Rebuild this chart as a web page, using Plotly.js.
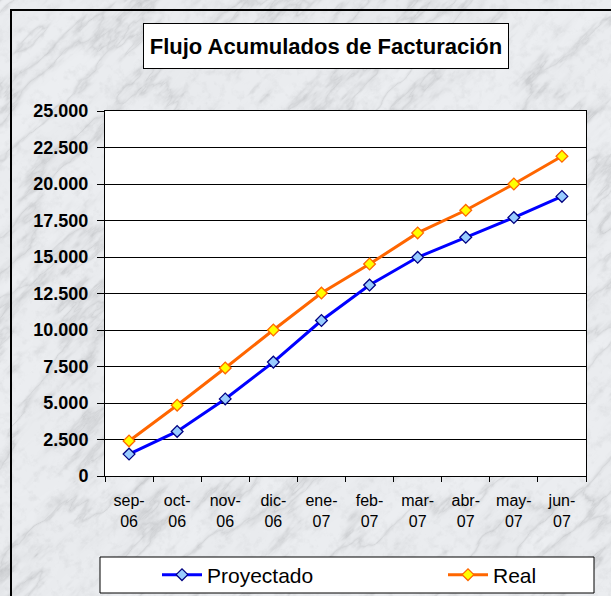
<!DOCTYPE html>
<html>
<head>
<meta charset="utf-8">
<script src="https://cdn.plot.ly/plotly-3.0.1.min.js"></script>
<style>
  html, body { margin: 0; padding: 0; background: #e3e5e7; overflow: hidden; }
  #wrap { position: relative; width: 611px; height: 596px; overflow: hidden; }
  #chart { position: absolute; left: 0; top: 0; width: 611px; height: 596px; }
  #frame { position: absolute; left: 10px; top: 9px; width: 700px; height: 700px;
           border-left: 2px solid #000; border-top: 2px solid #000; pointer-events: none; }
</style>
</head>
<body>
<div id="wrap">
  <div id="chart"></div>
  <div id="frame"></div>
</div>
<script>
// ---- data ----
const months = ['sep', 'oct', 'nov', 'dic', 'ene', 'feb', 'mar', 'abr', 'may', 'jun'];
const years = ['06', '06', '06', '06', '07', '07', '07', '07', '07', '07'];
const proyectado = [1500, 3050, 5280, 7800, 10650, 13080, 14980, 16350, 17700, 19150];
const real = [2400, 4850, 7400, 10000, 12530, 14520, 16650, 18200, 20000, 21900];
const yTickVals = [0, 2500, 5000, 7500, 10000, 12500, 15000, 17500, 20000, 22500, 25000];
const titleText = 'Flujo Acumulados de Facturación';

const categories = months.map((m, i) => m + '-' + years[i]);
const tickText = months.map((m, i) => m + '-<br>' + years[i]);

// ---- decorative marble-like background (deterministic hash noise) ----
(function () {
  const W = 611, H = 596;
  const c = document.createElement('canvas');
  c.width = W; c.height = H;
  const ctx = c.getContext('2d');
  const img = ctx.createImageData(W, H);
  const hash = (ix, iy) => { const s = Math.sin(ix * 127.1 + iy * 311.7) * 43758.5453; return s - Math.floor(s); };
  const smooth = t => t * t * (3 - 2 * t);
  const vnoise = (x, y) => {
    const ix = Math.floor(x), iy = Math.floor(y), fx = smooth(x - ix), fy = smooth(y - iy);
    const a = hash(ix, iy), b = hash(ix + 1, iy), c2 = hash(ix, iy + 1), d = hash(ix + 1, iy + 1);
    return a + (b - a) * fx + (c2 - a) * fy + (a - b - c2 + d) * fx * fy;
  };
  const fbm = (x, y) => {
    let s = 0, amp = 0.5, f = 1;
    for (let o = 0; o < 5; o++) { s += amp * vnoise(x * f, y * f); f *= 2.1; amp *= 0.5; }
    return s;
  };
  for (let y = 0; y < H; y++) {
    for (let x = 0; x < W; x++) {
      const u = (x - y) * 0.5, w = (x + y) * 0.5;
      const n = fbm(u / 60, w / 18);
      const vein = Math.abs(Math.sin(w * 0.04 + n * 8));
      const dark = Math.pow(1 - vein, 3) * 0.55;
      const smudge = Math.max(0, fbm(u / 25 + 20, w / 8 + 20) - 0.5) * 2;
      const grain = fbm(x / 6 + 50, y / 6 + 50);
      let v = 240 - 38 * dark - 30 * smudge * smudge - 14 * Math.max(0, grain - 0.5) * 2 - 8 * n;
      v = Math.max(160, Math.min(250, v));
      const k = (y * W + x) * 4;
      img.data[k] = v - 2; img.data[k + 1] = v; img.data[k + 2] = v + 3; img.data[k + 3] = 255;
    }
  }
  ctx.putImageData(img, 0, 0);
  document.getElementById('wrap').style.background = 'url(' + c.toDataURL() + ')';
})();

// ---- pixel helpers for paper coordinates ----
const L = 105, R = 25, T = 111, B = 120, FW = 611, FH = 596;
const PW = FW - L - R, PH = FH - T - B;
const px = v => (v - L) / PW;
const py = v => (FH - B - v) / PH;

const traces = [
  {
    x: categories, y: proyectado, name: 'Proyectado', type: 'scatter', mode: 'lines+markers',
    line: { color: '#0000FF', width: 3 },
    marker: { symbol: 'diamond', size: 9, color: '#99CCFF', line: { color: '#000080', width: 1.3 } },
    legend: 'legend'
  },
  {
    x: categories, y: real, name: 'Real', type: 'scatter', mode: 'lines+markers',
    line: { color: '#FF6600', width: 3 },
    marker: { symbol: 'diamond', size: 9, color: '#FFFF00', line: { color: '#FF6600', width: 1.3 } },
    legend: 'legend2'
  }
];

const legendCommon = {
  orientation: 'h', xref: 'container', yref: 'container',
  yanchor: 'middle', xanchor: 'left', y: 1 - 575 / FH,
  bgcolor: 'rgba(0,0,0,0)', borderwidth: 0, itemwidth: 40,
  font: { family: 'Liberation Sans, Arial, sans-serif', size: 21, color: '#000' }
};

const layout = {
  width: FW, height: FH,
  margin: { l: L, r: R, t: T, b: B, pad: 0, autoexpand: false },
  paper_bgcolor: 'rgba(0,0,0,0)',
  plot_bgcolor: '#FFFFFF',
  separators: ',.',
  showlegend: true,
  font: { family: 'Liberation Sans, Arial, sans-serif', color: '#000' },
  xaxis: {
    type: 'category', range: [-0.5, 9.5],
    tickvals: categories, ticktext: tickText,
    tickson: 'boundaries', ticks: 'outside', ticklen: 5, tickcolor: '#000', tickwidth: 1,
    ticklabelstandoff: 10,
    showgrid: false, zeroline: false,
    showline: true, linecolor: '#000', linewidth: 1, mirror: true,
    tickfont: { size: 16, color: '#000' }
  },
  yaxis: {
    range: [0, 25000], tickvals: yTickVals, tickformat: ',d',
    ticks: 'outside', ticklen: 7, tickcolor: '#000', tickwidth: 1,
    ticklabelstandoff: 5,
    showgrid: true, gridcolor: '#000', gridwidth: 1, zeroline: false,
    showline: true, linecolor: '#000', linewidth: 1, mirror: true,
    tickfont: { size: 18, color: '#000', weight: 'bold' }
  },
  legend: Object.assign({}, legendCommon, { x: 157 / FW }),
  legend2: Object.assign({}, legendCommon, { x: 443 / FW }),
  annotations: [
    {
      xref: 'paper', yref: 'paper', x: px(326), y: py(46.2), xanchor: 'center', yanchor: 'middle',
      text: '<b>' + titleText + '</b>', showarrow: false,
      font: { family: 'Liberation Sans, Arial, sans-serif', size: 22, color: '#000' },
      bgcolor: '#FFFFFF', bordercolor: '#000', borderwidth: 1, borderpad: 1,
      width: 362, height: 42
    }
  ],
  shapes: [
    {
      type: 'rect', xref: 'paper', yref: 'paper', layer: 'below',
      x0: px(100), x1: px(594), y0: py(593), y1: py(557),
      fillcolor: '#FFFFFF', line: { color: '#000', width: 1 }
    }
  ]
};

Plotly.newPlot('chart', traces, layout, { displayModeBar: false, staticPlot: true });
</script>
</body>
</html>
